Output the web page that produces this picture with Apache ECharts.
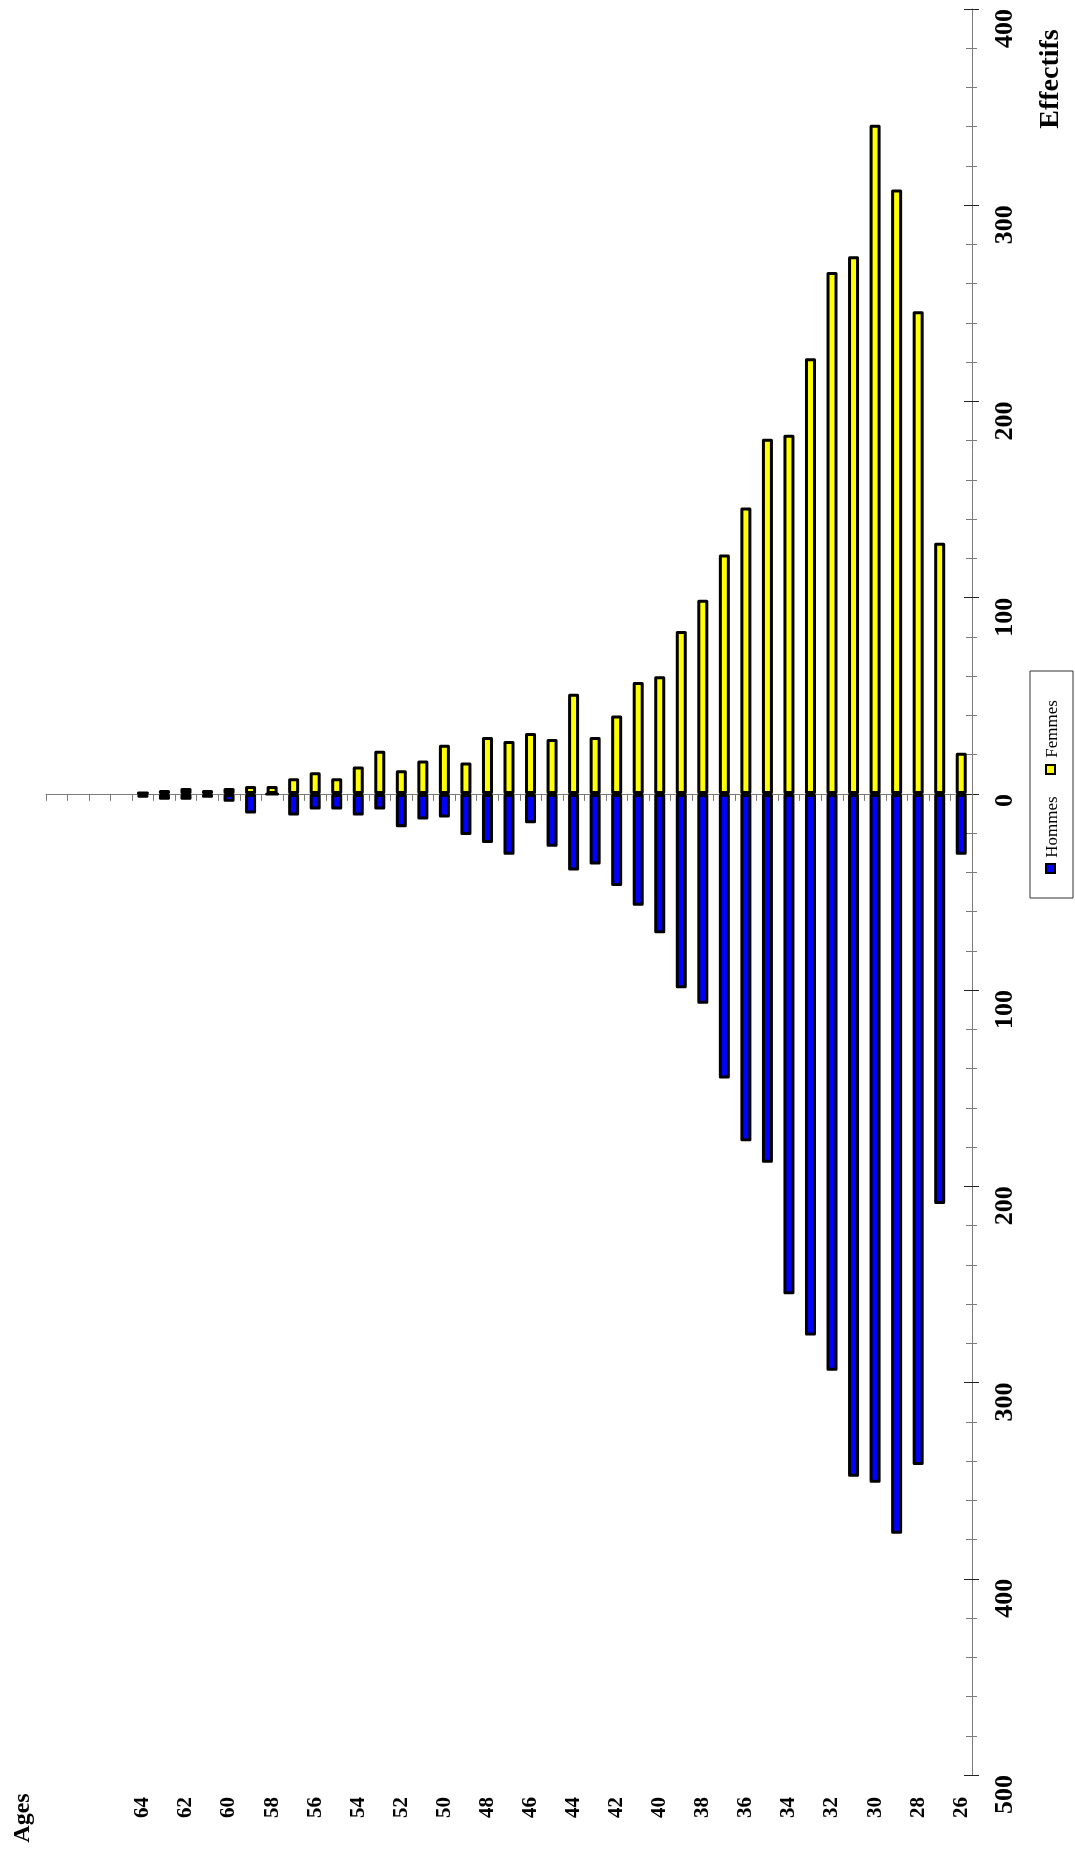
<!DOCTYPE html>
<html>
<head>
<meta charset="utf-8">
<script src="https://cdn.jsdelivr.net/npm/echarts@6/dist/echarts.min.js"></script>
<style>
html,body{margin:0;padding:0;background:#fff;}
#chart{width:1075px;height:1859px;}
</style>
</head>
<body>
<div id="chart"></div>
<script>
// Ages (categories), shown from 68 (left) to 26 (right)
const ages = ['26','27','28','29','30','31','32','33','34','35','36','37','38','39','40','41','42','43','44','45','46','47','48','49','50','51','52','53','54','55','56','57','58','59','60','61','62','63','64','65','66','67','68'];
// Age tick labels actually printed
const ageTickLabels = ['26','28','30','32','34','36','38','40','42','44','46','48','50','52','54','56','58','60','62','64'];
// Femmes (ages 26..64)
const femmes = [21,128,246,308,341,274,266,222,183,181,146,122,99,83,60,57,40,29,51,28,31,27,29,16,25,17,12,22,14,8,11,8,4,4,3,2,3,2,1];
// Hommes (ages 26..64)
const hommes = [31,209,342,377,351,348,294,276,255,188,177,145,107,99,71,57,47,36,39,27,15,31,25,21,12,13,17,8,11,8,8,11,0,10,4,2,3,3,2];
// Value axis
const valueMin = -500, valueMax = 400, valueStep = 100;

const serif = '"Liberation Serif","Times New Roman",serif';
const chart = echarts.init(document.getElementById('chart'), null, {renderer:'canvas'});

const valueAxisBase = {
  type:'value', min:valueMin, max:valueMax, interval:valueStep, position:'right',
  splitLine:{show:false}
};

chart.setOption({
  animation:false,
  backgroundColor:'#ffffff',
  grid:{left:46, right:103, top:9, bottom:84, outerBoundsMode:'none', containLabel:false},
  xAxis:[
    {
      type:'category', data:ages, inverse:true, position:'bottom',
      axisLine:{onZero:true, lineStyle:{color:'#7a7a7a', width:1}},
      axisTick:{show:true, interval:0, length:7, lineStyle:{color:'#7a7a7a'}},
      axisLabel:{show:false}
    },
    {
      type:'category', data:ages, inverse:true, position:'bottom',
      axisLine:{show:false, onZero:false},
      axisTick:{show:false},
      axisLabel:{
        show:true, interval:0, rotate:90, margin:22,
        fontFamily:serif, fontWeight:'bold', fontSize:21, color:'#000',
        formatter:function(v){ return ageTickLabels.indexOf(v) >= 0 ? v : ''; }
      }
    }
  ],
  yAxis:[
    Object.assign({}, valueAxisBase, {
      axisLine:{show:true, onZero:false, lineStyle:{color:'#7a7a7a', width:1}},
      axisTick:{show:true, inside:false, length:7, lineStyle:{color:'#222'}},
      minorTick:{show:true, splitNumber:5, length:5, lineStyle:{color:'#7a7a7a'}},
      axisLabel:{
        show:true, rotate:90, margin:20, align:'right', verticalAlign:'top',
        fontFamily:serif, fontWeight:'bold', fontSize:26, color:'#000',
        formatter:function(v){ return String(Math.abs(v)); }
      }
    }),
    Object.assign({}, valueAxisBase, {
      axisLine:{show:false},
      axisTick:{show:true, inside:true, length:8, lineStyle:{color:'#222'}},
      minorTick:{show:true, splitNumber:5, length:6, lineStyle:{color:'#7a7a7a'}},
      axisLabel:{show:false}
    })
  ],
  series:[
    {
      name:'Femmes', type:'bar', xAxisIndex:0, yAxisIndex:0,
      data:femmes, barWidth:11, barGap:'-100%',
      itemStyle:{color:'#ffff00', borderColor:'#000', borderWidth:3, borderJoin:'round'}
    },
    {
      name:'Hommes', type:'bar', xAxisIndex:0, yAxisIndex:0,
      data:hommes.map(function(v){ return -v; }), barWidth:11, barGap:'-100%',
      itemStyle:{color:'#0000ff', borderColor:'#000', borderWidth:3, borderJoin:'round'}
    }
  ],
  graphic:[
    {type:'text', x:1051, y:79, rotation:Math.PI/2,
     style:{text:'Effectifs', font:'bold 28px '+serif, fill:'#000', textAlign:'center', textVerticalAlign:'middle'}},
    {type:'text', x:23, y:1818, rotation:Math.PI/2,
     style:{text:'Ages', font:'bold 24px '+serif, fill:'#000', textAlign:'center', textVerticalAlign:'middle'}},
    {type:'rect', shape:{x:1030, y:671, width:43, height:227},
     style:{fill:'#fff', stroke:'#333', lineWidth:1}},
    {type:'rect', shape:{x:1046, y:765, width:9, height:9},
     style:{fill:'#ffff00', stroke:'#000', lineWidth:2}},
    {type:'text', x:1053, y:729, rotation:Math.PI/2,
     style:{text:'Femmes', font:'17px '+serif, fill:'#000', textAlign:'center', textVerticalAlign:'middle'}},
    {type:'rect', shape:{x:1046, y:864, width:9, height:9},
     style:{fill:'#0000ff', stroke:'#000', lineWidth:2}},
    {type:'text', x:1053, y:827, rotation:Math.PI/2,
     style:{text:'Hommes', font:'17px '+serif, fill:'#000', textAlign:'center', textVerticalAlign:'middle'}}
  ]
});
</script>
</body>
</html>
